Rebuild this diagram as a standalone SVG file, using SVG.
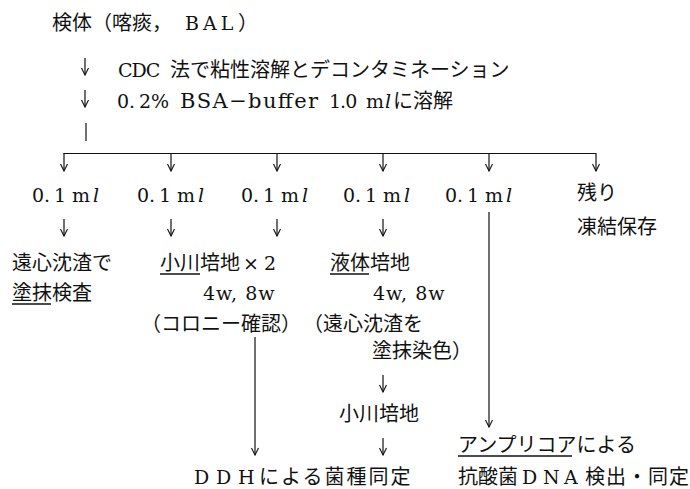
<svg xmlns="http://www.w3.org/2000/svg" width="690" height="489" viewBox="0 0 690 489">
<defs>
<style>
.t{font-family:"DejaVu Serif","Noto Sans CJK JP",serif;font-size:19px;fill:#111}
.j{font-family:"Noto Sans CJK JP","DejaVu Serif",sans-serif;font-size:20px;fill:#111}
.i{font-style:italic}
.ln{stroke:#111;stroke-width:1.2;fill:none}
.ar{stroke:#111;stroke-width:1.2;fill:none;marker-end:url(#ah)}
.ul{stroke:#111;stroke-width:1.3}
</style>
<marker id="ah" markerUnits="userSpaceOnUse" markerWidth="12" markerHeight="12" refX="0" refY="0" viewBox="-8 -6 10 12" orient="auto">
<path d="M-7,-3.5 L0,0 L-7,3.5" fill="none" stroke="#111" stroke-width="1.1"/>
</marker>
</defs>
<rect width="690" height="489" fill="#fff"/>

<g id="specimen">
<text class="j" x="52" y="30">検体（喀痰，<tspan class="t" x="185" letter-spacing="4">BAL</tspan><tspan x="238">）</tspan></text>
</g>
<g id="step1">
<text class="t" x="118" y="77" letter-spacing="-1">CDC <tspan class="j" x="170" letter-spacing="0">法で粘性溶解とデコンタミネーション</tspan></text>
</g>
<g id="step2">
<text class="t" x="117" y="108">0.<tspan x="139">2% </tspan><tspan x="180" font-size="21" textLength="138" lengthAdjust="spacing">BSA−buffer</tspan><tspan x="329" letter-spacing="-1">1.0</tspan><tspan> </tspan><tspan x="366">m</tspan><tspan class="i" x="385">l</tspan><tspan class="j" x="393">に溶解</tspan></text>
</g>

<g id="connectors">
<path class="ar" d="M85,58 V75"/>
<path class="ar" d="M85,90 V107"/>
<path class="ln" d="M86,123 V141"/>
<path class="ln" d="M63.5,153.5 H596" stroke-width="1.6"/>
<path class="ar" d="M64,153 V171"/>
<path class="ar" d="M171,153 V171"/>
<path class="ar" d="M277,153 V171"/>
<path class="ar" d="M383,153 V171"/>
<path class="ar" d="M489,153 V171"/>
<path class="ar" d="M596,153 V171"/>
<path class="ar" d="M64,219 V236"/>
<path class="ar" d="M171,219 V236"/>
<path class="ar" d="M277,219 V236"/>
<path class="ar" d="M383,219 V236"/>
<path class="ar" d="M255,337 V455"/>
<path class="ar" d="M489,212 V427"/>
<path class="ar" d="M383,375 V392"/>
<path class="ar" d="M383,438 V455"/>
</g>

<g id="a1"><text class="t" y="202"><tspan x="32">0.</tspan><tspan x="54">1 </tspan><tspan x="72">m</tspan><tspan class="i" x="93">l</tspan></text></g>
<g id="a2"><text class="t" y="202"><tspan x="137">0.</tspan><tspan x="159">1 </tspan><tspan x="177">m</tspan><tspan class="i" x="198">l</tspan></text></g>
<g id="a3"><text class="t" y="202"><tspan x="241">0.</tspan><tspan x="263">1 </tspan><tspan x="281">m</tspan><tspan class="i" x="302">l</tspan></text></g>
<g id="a4"><text class="t" y="202"><tspan x="343">0.</tspan><tspan x="365">1 </tspan><tspan x="383">m</tspan><tspan class="i" x="404">l</tspan></text></g>
<g id="a5"><text class="t" y="202"><tspan x="445">0.</tspan><tspan x="467">1 </tspan><tspan x="485">m</tspan><tspan class="i" x="506">l</tspan></text></g>
<g id="rest">
<text class="j" x="577" y="200">残り</text>
<text class="j" x="577" y="234">凍結保存</text>
</g>

<g id="smear">
<text class="j" x="12" y="270">遠心沈渣で</text>
<text class="j" x="12" y="300">塗抹検査</text>
<line class="ul" x1="12" y1="304" x2="51" y2="304"/>
</g>
<g id="ogawa">
<text class="j" x="160" y="270">小川培地<tspan class="t" x="243">×</tspan><tspan class="t" x="264">2</tspan></text>
<line class="ul" x1="160" y1="274" x2="200" y2="274"/>
<text class="t" x="203" y="300" letter-spacing="1">4w, 8w</text>
<text class="j" x="141" y="331">（コロニー確認）</text>
</g>
<g id="liquid">
<text class="j" x="330" y="270">液体培地</text>
<line class="ul" x1="330" y1="274" x2="369" y2="274"/>
<text class="t" x="373" y="300" letter-spacing="1">4w, 8w</text>
<text class="j" x="303" y="331">（遠心沈渣を</text>
<text class="j" x="372" y="358">塗抹染色）</text>
</g>
<g id="ogawa2">
<text class="j" x="339" y="421">小川培地</text>
</g>
<g id="ddh">
<text class="t" y="484"><tspan x="194">D</tspan><tspan x="216">D</tspan><tspan x="238">H</tspan><tspan class="j" x="259" letter-spacing="2">による菌種同定</tspan></text>
</g>
<g id="amplicor">
<text class="j" x="458" y="452">アンプリコアによる</text>
<line class="ul" x1="458" y1="456" x2="572" y2="456"/>
<text class="j" y="484"><tspan x="458">抗酸菌</tspan><tspan class="t" x="522">D</tspan><tspan class="t" x="543">N</tspan><tspan class="t" x="564">A</tspan><tspan x="585" letter-spacing="1">検出・同定</tspan></text>
</g>
</svg>
